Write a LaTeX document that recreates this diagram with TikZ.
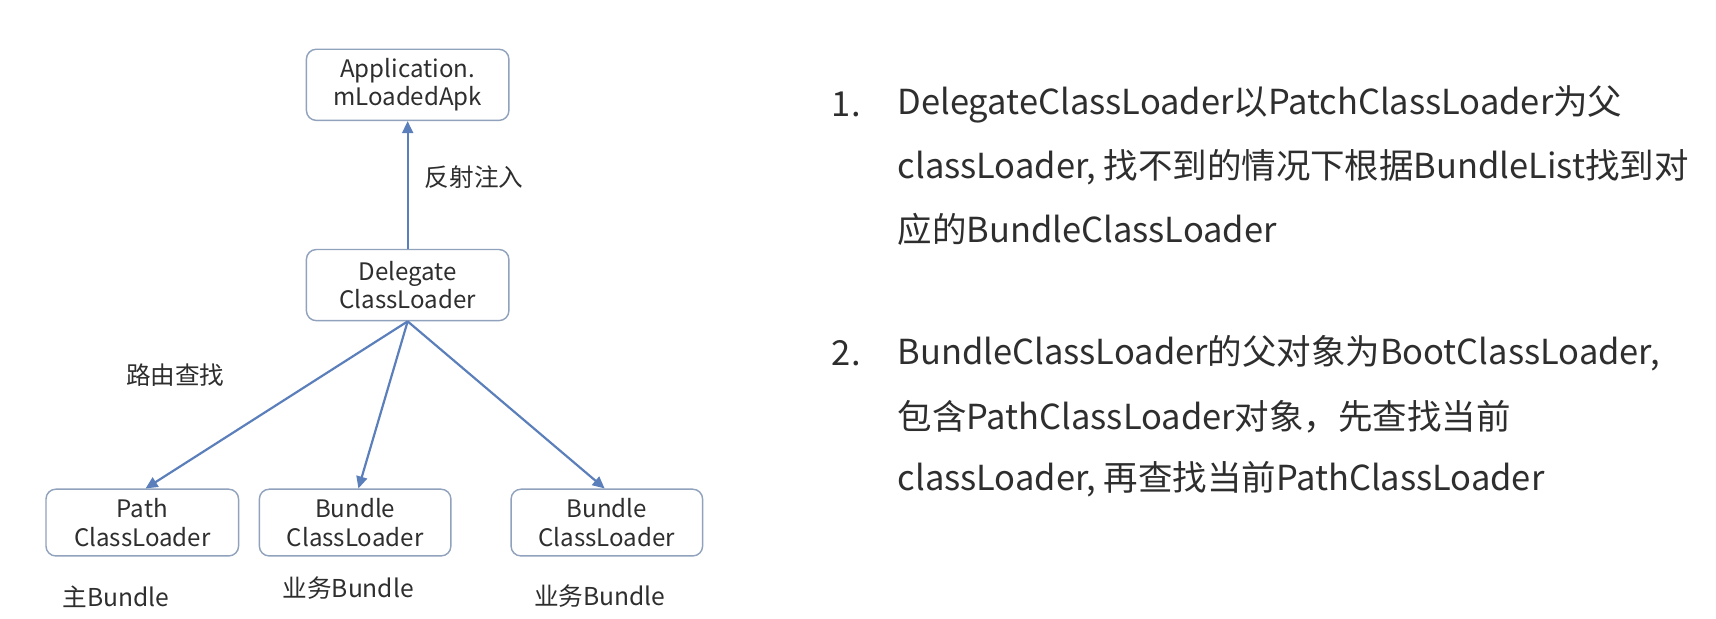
\documentclass[tikz,border=0pt]{standalone}
\usepackage{fontspec}
\setmainfont{Noto Sans CJK SC}
\usetikzlibrary{arrows.meta}
\definecolor{arrowblue}{HTML}{5B7FBB}
\definecolor{boxline}{HTML}{90A2BC}
\definecolor{txt}{HTML}{2E2E2E}
\begin{document}
\begin{tikzpicture}[x=1pt,y=-1pt,
  box/.style={draw=boxline,line width=1.3pt,rounded corners=9pt,fill=white,
    text=txt,align=center,font=\fontsize{22}{26}\selectfont,inner sep=0pt},
  conn/.style={draw=arrowblue,line width=2pt,-{Triangle[length=11pt,width=10pt]}},
  lbl/.style={text=txt,font=\fontsize{22.5}{26}\selectfont,inner sep=0pt},
  para/.style={text=txt,font=\fontsize{31.5}{36}\selectfont,inner sep=0pt,anchor=west}]
\useasboundingbox (0,0) rectangle (1568,565);
\fill[white] (0,0) rectangle (1568,565);
% nodes
\node[box,minimum width=185pt,minimum height=65pt] (app) at (372.5,77.5) {Application.\\mLoadedApk};
\node[box,minimum width=185pt,minimum height=65pt] (del) at (372.5,260.5) {Delegate\\ClassLoader};
\node[box,minimum width=176pt,minimum height=61pt] (path) at (130,477.5) {Path\\ClassLoader};
\node[box,minimum width=175pt,minimum height=61pt] (b1) at (324.5,477.5) {Bundle\\ClassLoader};
\node[box,minimum width=175pt,minimum height=61pt] (b2) at (554.5,477.5) {Bundle\\ClassLoader};
% connectors
\draw[conn] (del.north) -- (app.south);
\coordinate (src) at (del.south);
\draw[conn] (src) -- ([xshift=3pt]path.north);
\draw[conn] (src) -- ([xshift=3pt]b1.north);
\draw[conn] (src) -- ([xshift=-2pt]b2.north);
% labels
\node[lbl,anchor=west] (l1) at (388,162) {反射注入};
\node[lbl,anchor=west] (l2) at (115,343) {路由查找};
\node[lbl,anchor=west] (l3) at (57,545) {主Bundle};
\node[lbl,anchor=west] (l4) at (258,537) {业务Bundle};
\node[lbl,anchor=west] (l5) at (488,545) {业务Bundle};
% right text
\node[para] (n1) at (760,95) {1.};
\node[para] (p11) at (820,95) {DelegateClassLoader以PatchClassLoader为父};
\node[para] (p12) at (820,153) {classLoader, 找不到的情况下根据BundleList找到对};
\node[para] (p13) at (820,210) {应的BundleClassLoader};
\node[para] (n2) at (760,323) {2.};
\node[para] (p21) at (820,323) {BundleClassLoader的父对象为BootClassLoader,};
\node[para] (p22) at (820,381) {包含PathClassLoader对象，先查找当前};
\node[para] (p23) at (820,438) {classLoader, 再查找当前PathClassLoader};
\end{tikzpicture}
\end{document}
